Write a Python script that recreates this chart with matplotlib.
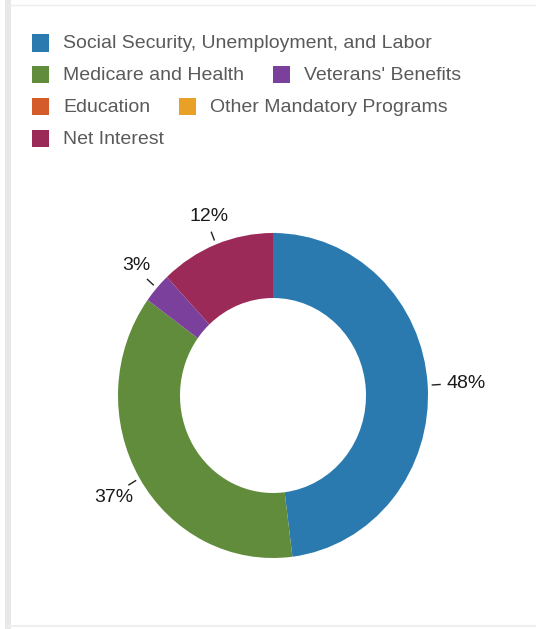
import numpy as np
import matplotlib.pyplot as plt
from matplotlib.patches import Rectangle
from matplotlib.lines import Line2D

categories = ["Social Security, Unemployment, and Labor", "Medicare and Health",
              "Veterans' Benefits", "Education", "Other Mandatory Programs", "Net Interest"]
shares = [48, 37, 3, 0, 0, 12]
colors = ["#2a7ab0", "#608c3c", "#7b3f9c", "#d45c2b", "#e8a026", "#9c2a58"]

plt.rcParams['font.family'] = ['Liberation Sans', 'DejaVu Sans']

W, H = 536, 629
fig = plt.figure(figsize=(W / 100, H / 100), dpi=100)
fig.patch.set_facecolor("white")

# frame lines of the card
fig.add_artist(Rectangle((5 / W, 0), 6 / W, 1, transform=fig.transFigure, color="#e8e8e8", lw=0))
fig.add_artist(Line2D([8 / W, 1], [1 - 5 / H, 1 - 5 / H], transform=fig.transFigure, color="#ededed", lw=1))
fig.add_artist(Line2D([8 / W, 1], [3 / H, 3 / H], transform=fig.transFigure, color="#efefef", lw=1.5))

# legend drawn as a flowing list
renderer = fig.canvas.get_renderer()
x0, x, y = 32, 32, 43
maxx = 505
sq = 17
for name, col in zip(categories, colors):
    t = fig.text(0, 0, name, fontsize=14, color="#5a5a5a", va="center", ha="left")
    tw = t.get_window_extent(renderer).width
    if x > x0 and x + sq + 14 + tw > maxx:
        x = x0
        y += 31.7
    fig.add_artist(Rectangle((x / W, 1 - (y + sq / 2) / H), sq / W, sq / H,
                             transform=fig.transFigure, color=col, lw=0))
    t.set_position(((x + sq + 14) / W, 1 - (y + 1) / H))
    x += sq + 14 + tw + 29

# donut
cx, cy = 273, 395.5
rx, ry = 155, 162.5
aw, ah = 420, 420
ax = fig.add_axes([(cx - aw / 2) / W, (H - cy - ah / 2) / H, aw / W, ah / H])
ax.axis("off")

wedges, _ = ax.pie(shares, colors=colors, startangle=90, counterclock=False,
                   radius=1, wedgeprops=dict(width=0.4, linewidth=0))
ax.set_xlim(-aw / 2 / rx, aw / 2 / rx)
ax.set_ylim(-ah / 2 / ry, ah / 2 / ry)
ax.set_aspect("auto")

for w, v in zip(wedges, shares):
    if v == 0:
        continue
    a = np.deg2rad((w.theta1 + w.theta2) / 2)
    c, s = np.cos(a), np.sin(a)
    ax.plot([1.03 * c, 1.08 * c], [1.03 * s, 1.08 * s], color="#222222", lw=1)
    ha = "left" if c > 0.4 else ("right" if c < -0.4 else "center")
    va = "bottom" if s > 0.4 else ("top" if s < -0.4 else "center")
    rxl = 1.05 if ha == "right" else 1.12
    ax.text(rxl * c, 1.13 * s, f"{v}%", ha=ha, va=va, fontsize=14, color="#1a1a1a")

fig.savefig("out.png", dpi=100)
